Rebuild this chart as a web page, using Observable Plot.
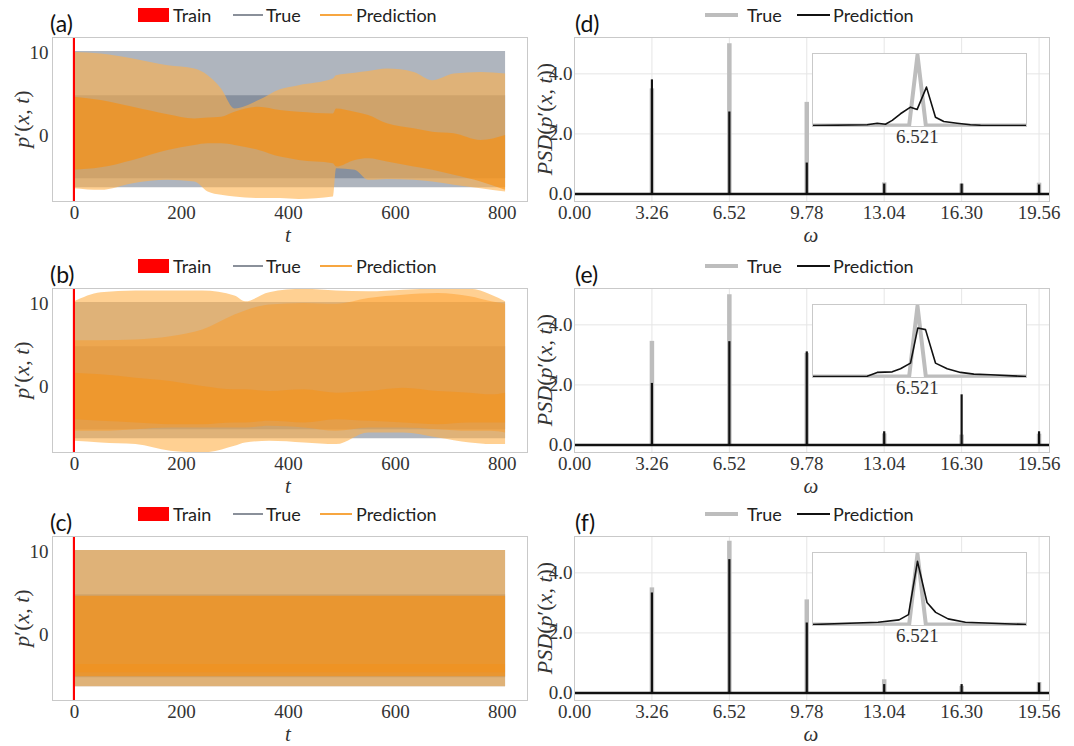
<!DOCTYPE html>
<html><head><meta charset="utf-8">
<script src="https://cdn.jsdelivr.net/npm/d3@7"></script>
<script src="https://cdn.jsdelivr.net/npm/@observablehq/plot@0.6"></script>
<style>
body{margin:0;background:#fff;}
#fig{position:relative;width:1074px;height:746px;overflow:hidden;background:#fff;}
.pane{position:absolute;}
.leg{position:absolute;font-family:Lato,"Open Sans",sans-serif;font-size:18px;color:#222;white-space:nowrap;line-height:18px;}
.sw{position:absolute;}
.plabel{position:absolute;font-family:Lato,"Open Sans",sans-serif;font-size:23px;color:#111;line-height:23px;}
.ylab{position:absolute;font-family:"Liberation Serif",serif;font-size:22px;color:#333;transform:translate(-50%,-50%) rotate(-90deg);white-space:nowrap;line-height:22px;}
.xlab{position:absolute;font-family:"Liberation Serif",serif;font-size:21px;font-style:italic;color:#333;transform:translate(-50%,-50%);line-height:16px;}
</style></head>
<body><div id="fig"></div>
<script>
// ---------- tick values ----------
const tTicks = [0, 200, 400, 600, 800];
const pTicks = [0, 10];
const omegaTicks = [0, 3.26, 6.52, 9.78, 13.04, 16.30, 19.56];
const psdTicks = [0, 2, 4];
const insetTick = [6.521];

// ---------- left panels: envelopes of p'(x,t) ----------
const trainSpan = [-2, 2];
const tTrue = [0, 806];
const trueOuterLo = [-6.3, -6.3];
const trueOuterHi = [10.1, 10.1];
const trueCoreLo = [-5.2, -5.2];
const trueCoreHi = [4.8, 4.8];

// (a)
const tA = [0, 50, 110, 175, 225, 250, 275, 300, 345, 385, 420, 484, 490, 525, 550, 585, 635, 670, 710, 760, 806];
const aOuterHi = [10.0, 9.8, 9.2, 8.4, 8.0, 7.2, 5.6, 3.2, 4.2, 5.5, 6.0, 6.8, 7.2, 7.5, 7.7, 8.0, 7.6, 6.6, 7.4, 7.6, 7.4];
const aOuterLo = [-6.4, -6.6, -5.8, -5.4, -5.6, -6.8, -7.2, -7.4, -7.6, -7.6, -7.7, -7.4, -4.0, -4.2, -5.4, -5.3, -5.4, -5.6, -6.0, -6.4, -6.8];
const aCoreHi = [4.6, 4.2, 3.4, 2.5, 2.0, 2.1, 2.2, 2.8, 3.4, 3.0, 2.8, 2.6, 3.2, 2.8, 2.4, 1.4, 0.8, 0.4, 0.2, -0.6, 0.0];
const aCoreLo = [-4.2, -3.9, -3.0, -1.8, -1.2, -1.0, -1.0, -1.2, -1.8, -2.6, -3.0, -3.4, -3.8, -3.0, -2.8, -3.2, -3.8, -4.2, -4.8, -5.6, -6.6];

// (b)
const tB = [0, 50, 115, 180, 240, 300, 320, 365, 430, 490, 550, 615, 680, 740, 780, 806];
const bOuterHi = [10.2, 11.3, 11.5, 11.5, 11.5, 10.9, 10.2, 11.3, 11.7, 11.5, 11.4, 11.6, 11.7, 11.7, 11.0, 10.2];
const bOuterLo = [-6.6, -6.8, -7.0, -7.8, -8.0, -7.2, -6.8, -6.6, -6.8, -7.0, -5.6, -5.6, -6.2, -6.8, -7.0, -7.0];
const bMidHi = [5.5, 5.5, 5.6, 6.0, 6.8, 8.6, 9.1, 9.8, 10.0, 9.9, 10.6, 11.0, 11.2, 10.8, 10.2, 9.9];
const bMidLo = [-5.4, -5.4, -5.2, -5.0, -5.0, -5.0, -5.0, -4.8, -5.0, -5.4, -5.0, -5.0, -5.2, -5.4, -5.4, -5.6];
const bCoreHi = [1.6, 1.4, 1.0, 0.6, 0.0, -0.4, -0.4, -0.6, -0.4, -0.8, -0.6, -0.2, -0.6, -0.8, -1.0, -0.8];
const bCoreLo = [-4.0, -4.2, -4.4, -4.6, -4.6, -4.4, -4.4, -4.2, -4.4, -4.0, -4.2, -4.4, -4.6, -4.4, -4.4, -4.4];

// (c)
const tC = [0, 806];
const cOuterHi = [10.1, 10.1];
const cOuterLo = [-6.3, -6.3];
const cCoreHi = [4.6, 4.6];
const cCoreLo = [-5.1, -5.1];
const cStripeHi = [-3.6, -3.6];
const cStripeLo = [-4.6, -4.6];

// ---------- right panels: PSD ----------
const harmonics = [3.26, 6.52, 9.78, 13.04, 16.30, 19.56];
const dTrue = [3.5, 5.0, 3.05, 0.37, 0.33, 0.36];
const dPred = [3.8, 2.73, 1.03, 0.33, 0.33, 0.30];
const eTrue = [3.45, 5.0, 3.05, 0.37, 0.33, 0.36];
const ePred = [2.05, 3.44, 3.10, 0.44, 1.67, 0.44];
const fTrue = [3.5, 5.05, 3.1, 0.44, 0.22, 0.35];
const fPred = [3.33, 4.44, 2.33, 0.28, 0.28, 0.33];

// insets around omega = 6.521
const insetTrueW = [6.4217, 6.5131, 6.5210, 6.5289, 6.6241];
const insetTrueV = [0, 0, 5.0, 0, 0];
const dInsetW = [6.4214, 6.4734, 6.4829, 6.4907, 6.4971, 6.5049, 6.5144, 6.5207, 6.5295, 6.5380, 6.5459, 6.5585, 6.5711, 6.5806, 6.6241];
const dInsetV = [0, 0.05, 0.16, 0.09, 0.36, 0.83, 1.30, 1.14, 2.72, 0.59, 0.28, 0.16, 0.05, 0.02, 0];
const eInsetW = [6.4214, 6.4734, 6.4829, 6.4971, 6.5049, 6.5144, 6.5213, 6.5286, 6.5380, 6.5491, 6.5617, 6.5743, 6.5901, 6.6232];
const eInsetV = [0, 0.02, 0.29, 0.33, 0.55, 0.95, 3.44, 3.32, 0.95, 0.55, 0.29, 0.17, 0.12, 0];
const fInsetW = [6.4217, 6.4837, 6.5036, 6.5125, 6.5210, 6.5300, 6.5382, 6.5499, 6.5663, 6.6241];
const fInsetV = [0, 0.16, 0.33, 0.70, 4.47, 1.56, 0.86, 0.40, 0.16, 0];

// ---------- styles ----------
const TRUE_FILL = "#5f6b7e", TRUE_OP = 0.5;
const LIGHT_ORANGE = "#ffb04a", ORANGE = "#ff8c00", MID_ORANGE = "#ff9a20";
const GRID = "#e6e6e6", FRAME = "#c9c9c9";
const yLeft = [-7.95, 11.8];
const xLeft = [-41, 847];
const rowTop = [0, 251, 499];

const fig = document.getElementById("fig");
function el(cls, html, css) {
  const d = document.createElement("div");
  d.className = cls; d.innerHTML = html; Object.assign(d.style, css); fig.appendChild(d); return d;
}
const zipBand = (t, lo, hi) => t.map((v, i) => ({t: v, lo: lo[i], hi: hi[i]}));
const zipXY = (x, y) => x.map((v, i) => ({w: v, v: y[i]}));

function leftPanel(row, bands, label) {
  const top = rowTop[row];
  const marks = [];
  marks.push(Plot.areaY(zipBand(tTrue, trueOuterLo, trueOuterHi), {x: "t", y1: "lo", y2: "hi", fill: TRUE_FILL, fillOpacity: TRUE_OP}));
  marks.push(Plot.areaY(zipBand(tTrue, trueCoreLo, trueCoreHi), {x: "t", y1: "lo", y2: "hi", fill: TRUE_FILL, fillOpacity: TRUE_OP}));
  for (const b of bands) {
    marks.push(Plot.areaY(zipBand(b.t, b.lo, b.hi), {x: "t", y1: "lo", y2: "hi", fill: b.fill, fillOpacity: b.op, curve: "monotone-x", clip: true}));
  }
  marks.push(Plot.rect([trainSpan], {x1: d => d[0], x2: d => d[1], y1: yLeft[0], y2: yLeft[1], fill: "#ff0000"}));
  marks.push(Plot.frame({stroke: FRAME}));
  marks.push(Plot.axisX({ticks: tTicks, tickSize: 0, tickPadding: 4, label: null}));
  marks.push(Plot.axisY({ticks: pTicks, tickSize: 0, tickPadding: 4, label: null}));
  const p = Plot.plot({
    width: 540, height: 246, marginLeft: 52, marginRight: 13, marginTop: 37, marginBottom: 45,
    x: {domain: xLeft}, y: {domain: yLeft},
    style: {fontFamily: "'Liberation Serif', serif", fontSize: "19px", color: "#333", background: "transparent", overflow: "visible"},
    marks
  });
  const w = document.createElement("div"); w.className = "pane"; w.style.left = "0px"; w.style.top = top + "px"; w.appendChild(p); fig.appendChild(w);
  // legend
  el("sw", "", {left: "138px", top: (top + 8) + "px", width: "31px", height: "14px", background: "#ff0000"});
  el("leg", "Train", {left: "173px", top: (top + 6) + "px"});
  el("sw", "", {left: "233px", top: (top + 14) + "px", width: "30px", height: "2px", background: "#8a909a"});
  el("leg", "True", {left: "266px", top: (top + 6) + "px"});
  el("sw", "", {left: "320px", top: (top + 14) + "px", width: "32px", height: "2px", background: "#f7a640"});
  el("leg", "Prediction", {left: "356px", top: (top + 6) + "px"});
  el("plabel", label, {left: "50px", top: (top + 12) + "px"});
  el("ylab", "<i>p</i>′(<i>x</i>, <i>t</i>)", {left: "22px", top: (top + 119) + "px"});
  el("xlab", "t", {left: "288px", top: (top + 235) + "px"});
}

function rightPanel(row, tru, pred, inW, inV, label) {
  const top = rowTop[row];
  const spikesT = zipXY(harmonics, tru), spikesP = zipXY(harmonics, pred);
  const p = Plot.plot({
    width: 544, height: 246, marginLeft: 44, marginRight: 25, marginTop: 37, marginBottom: 45,
    x: {domain: [0, 20]}, y: {domain: [-0.25, 5.21]},
    style: {fontFamily: "'Liberation Serif', serif", fontSize: "19px", color: "#333", background: "transparent", overflow: "visible"},
    marks: [
      Plot.gridX(omegaTicks, {stroke: GRID, strokeOpacity: 1}),
      Plot.gridY(psdTicks, {stroke: GRID, strokeOpacity: 1}),
      Plot.ruleX(spikesT, {x: "w", y1: 0, y2: "v", stroke: "#bdbdbd", strokeWidth: 4.5}),
      Plot.ruleY([0], {stroke: "#111", strokeWidth: 2.5}),
      Plot.ruleX(spikesP, {x: "w", y1: 0, y2: "v", stroke: "#111", strokeWidth: 2.2}),
      Plot.frame({stroke: FRAME}),
      Plot.axisX({ticks: omegaTicks, tickFormat: d3.format(".2f"), tickSize: 0, tickPadding: 4, label: null}),
      Plot.axisY({ticks: psdTicks, tickSize: 0, tickPadding: 2, label: null})
    ]
  });
  const w = document.createElement("div"); w.className = "pane"; w.style.left = "530px"; w.style.top = top + "px"; w.appendChild(p); fig.appendChild(w);
  // inset
  const ins = Plot.plot({
    width: 216, height: 96, marginLeft: 1, marginRight: 1, marginTop: 1, marginBottom: 22,
    x: {domain: [6.4217, 6.6241]}, y: {domain: [-0.07, 5.1], axis: null},
    style: {fontFamily: "'Liberation Serif', serif", fontSize: "19px", color: "#333", background: "transparent", overflow: "visible"},
    marks: [
      Plot.frame({fill: "white", stroke: "none"}),
      Plot.lineY(zipXY(insetTrueW, insetTrueV), {x: "w", y: "v", stroke: "#bdbdbd", strokeWidth: 4, clip: true}),
      Plot.lineY(zipXY(inW, inV), {x: "w", y: "v", stroke: "#111", strokeWidth: 1.6, clip: true}),
      Plot.frame({stroke: FRAME}),
      Plot.axisX({ticks: insetTick, tickFormat: d3.format(".3f"), tickSize: 0, tickPadding: 3, label: null})
    ]
  });
  const wi = document.createElement("div"); wi.className = "pane"; wi.style.left = "811px"; wi.style.top = (top + 52) + "px"; wi.appendChild(ins); fig.appendChild(wi);
  // legend
  el("sw", "", {left: "705px", top: (top + 13) + "px", width: "33px", height: "4px", background: "#bdbdbd"});
  el("leg", "True", {left: "747px", top: (top + 6) + "px"});
  el("sw", "", {left: "797px", top: (top + 14) + "px", width: "33px", height: "2px", background: "#111"});
  el("leg", "Prediction", {left: "833px", top: (top + 6) + "px"});
  el("plabel", label, {left: "575px", top: (top + 12) + "px"});
  el("ylab", "<i>PSD</i>(<i>p</i>′(<i>x</i>, <i>t</i>))", {left: "545px", top: (top + 119) + "px"});
  el("xlab", "ω", {left: "811px", top: (top + 235) + "px"});
}

leftPanel(0, [
  {t: tA, lo: aOuterLo, hi: aOuterHi, fill: LIGHT_ORANGE, op: 0.6},
  {t: tA, lo: aCoreLo, hi: aCoreHi, fill: ORANGE, op: 0.55}
], "(a)");
leftPanel(1, [
  {t: tB, lo: bOuterLo, hi: bOuterHi, fill: LIGHT_ORANGE, op: 0.6},
  {t: tB, lo: bMidLo, hi: bMidHi, fill: MID_ORANGE, op: 0.45},
  {t: tB, lo: bCoreLo, hi: bCoreHi, fill: ORANGE, op: 0.35}
], "(b)");
leftPanel(2, [
  {t: tC, lo: cOuterLo, hi: cOuterHi, fill: LIGHT_ORANGE, op: 0.6},
  {t: tC, lo: cCoreLo, hi: cCoreHi, fill: ORANGE, op: 0.55},
  {t: tC, lo: cStripeLo, hi: cStripeHi, fill: ORANGE, op: 0.25}
], "(c)");
rightPanel(0, dTrue, dPred, dInsetW, dInsetV, "(d)");
rightPanel(1, eTrue, ePred, eInsetW, eInsetV, "(e)");
rightPanel(2, fTrue, fPred, fInsetW, fInsetV, "(f)");
</script></body></html>
